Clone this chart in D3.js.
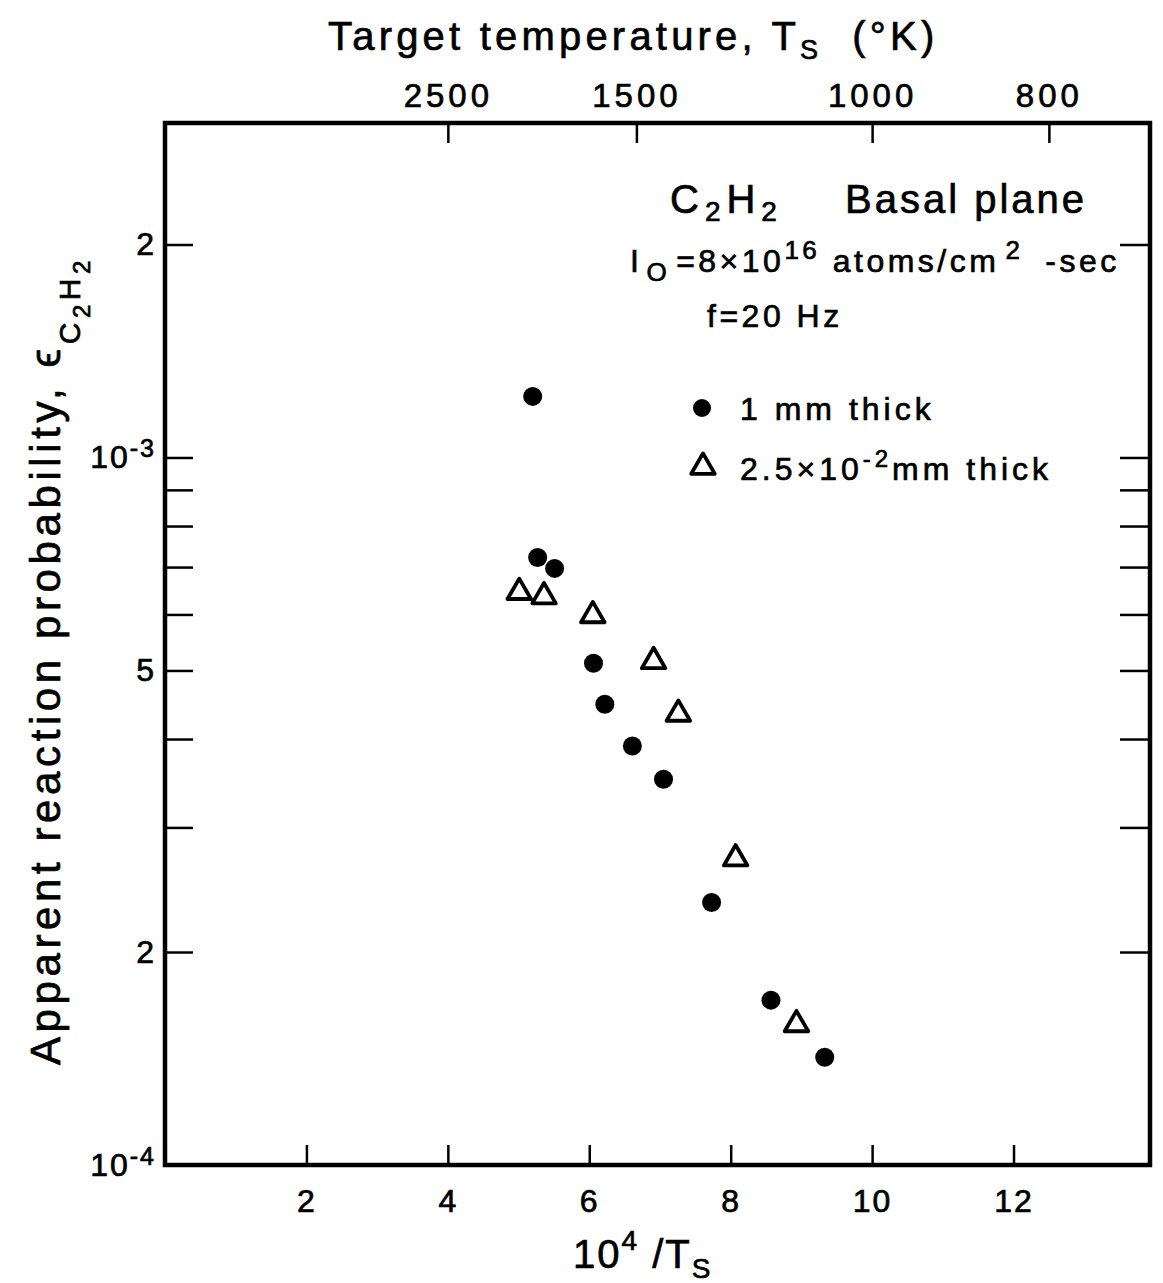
<!DOCTYPE html>
<html>
<head>
<meta charset="utf-8">
<title>C2H2 basal plane</title>
<script src="https://d3js.org/d3.v7.min.js"></script>
<style>
  body { margin: 0; background: #fff; }
  svg { display: block; font-family: "Liberation Sans", Arial, sans-serif; }
  .axis path.domain { display: none; }
  .axis line { stroke: #000; stroke-width: 2.5; }
  .axis text { font-size: 32px; fill: #000; stroke: #000; stroke-width: 0.7px; font-family: "Liberation Sans", Arial, sans-serif; letter-spacing: 2px; }
  .axis.top text { font-size: 33px; letter-spacing: 4px; }
  .frame { fill: none; stroke: #000; stroke-width: 4.5; }
  .dot { fill: #000; }
  .tri { fill: none; stroke: #000; stroke-width: 3.8; stroke-linejoin: round; }
  .lbl { fill: #000; stroke: #000; stroke-width: 0.7px; }
</style>
</head>
<body>
<script>
// 1 mm thick sample (filled circles)
var invT_thick = [5.20, 5.27, 5.51, 6.06, 6.22, 6.61, 7.05, 7.73, 8.57, 9.33];
var eps_thick  = [1.22e-3, 7.22e-4, 6.97e-4, 5.12e-4, 4.48e-4, 3.91e-4, 3.51e-4, 2.35e-4, 1.71e-4, 1.42e-4];
// 2.5e-2 mm thick sample (open triangles)
var invT_thin = [5.01, 5.36, 6.05, 6.91, 7.26, 8.07, 8.93];
var eps_thin  = [6.45e-4, 6.36e-4, 5.98e-4, 5.15e-4, 4.34e-4, 2.71e-4, 1.58e-4];

var xTicks = [2, 4, 6, 8, 10, 12];
var tempTicks = [2500, 1500, 1000, 800];
var yTicksLeft = [1e-4, 2e-4, 3e-4, 4e-4, 5e-4, 6e-4, 7e-4, 8e-4, 9e-4, 1e-3, 2e-3];
var yTicksRight = [2e-4, 3e-4, 4e-4, 5e-4, 6e-4, 7e-4, 8e-4, 9e-4, 1e-3, 2e-3];

var W = 1163, H = 1283;
var svg = d3.select('body').append('svg').attr('width', W).attr('height', H);

var x = d3.scaleLinear().domain([0, 13.93]).range([165, 1150]);
var y = d3.scaleLog().domain([1e-4, 2.97e-3]).range([1165, 123]);

function yFmt(d) {
  if (d === 1e-3 || d === 1e-4) return '10';
  if (d === 2e-3 || d === 2e-4) return '2';
  if (d === 5e-4) return '5';
  return '';
}

// left axis
var gl = svg.append('g').attr('class', 'axis').attr('transform', 'translate(165,0)')
  .call(d3.axisLeft(y).tickValues(yTicksLeft).tickFormat(yFmt).tickSizeInner(-28).tickSizeOuter(0).tickPadding(9));
gl.selectAll('.tick text').filter(function(d){ return d === 1e-3 || d === 1e-4; })
  .append('tspan').attr('dy', '-0.45em').style('font-size', '25px')
  .text(function(d){ return d === 1e-3 ? '-3' : '-4'; });

// right axis
svg.append('g').attr('class', 'axis').attr('transform', 'translate(1150,0)')
  .call(d3.axisRight(y).tickValues(yTicksRight).tickFormat('').tickSizeInner(-30).tickSizeOuter(0));

// bottom axis
svg.append('g').attr('class', 'axis').attr('transform', 'translate(0,1165)')
  .call(d3.axisBottom(x).tickValues(xTicks).tickFormat(d3.format('d')).tickSizeInner(-20).tickSizeOuter(0).tickPadding(24));

// top axis (temperature)
svg.append('g').attr('class', 'axis top').attr('transform', 'translate(0,123)')
  .call(d3.axisTop(x).tickValues(tempTicks.map(function(t){ return 1e4 / t; }))
    .tickFormat(function(d, i){ return tempTicks[i]; })
    .tickSizeInner(-20).tickSizeOuter(0).tickPadding(16));

svg.append('rect').attr('class', 'frame')
  .attr('x', x(0)).attr('y', y(2.97e-3))
  .attr('width', x(13.93) - x(0)).attr('height', y(1e-4) - y(2.97e-3));

// data
var thick = invT_thick.map(function(v, i){ return { x: v, y: eps_thick[i] }; });
var thin = invT_thin.map(function(v, i){ return { x: v, y: eps_thin[i] }; });

svg.selectAll('circle.dot').data(thick).enter().append('circle')
  .attr('class', 'dot')
  .attr('cx', function(d){ return x(d.x); })
  .attr('cy', function(d){ return y(d.y); })
  .attr('r', 9.5);

var tri = d3.symbol().type(d3.symbolTriangle).size(240);
svg.selectAll('path.tri').data(thin).enter().append('path')
  .attr('class', 'tri')
  .attr('d', tri)
  .attr('transform', function(d){ return 'translate(' + x(d.x) + ',' + y(d.y) + ')'; });

// rich text helper: parts = [text, size, dy, dx]
function rich(parent, px, py, parts, ls) {
  var t = parent.append('text').attr('class', 'lbl').attr('x', px).attr('y', py)
    .style('letter-spacing', (ls || 0) + 'px');
  parts.forEach(function(p){
    t.append('tspan').attr('dy', p[2] || 0).attr('dx', p[3] || 0).style('font-size', p[1] + 'px').text(p[0]);
  });
  return t;
}

// titles
rich(svg, 328, 50, [['Target temperature, T', 40], ['S', 27, 9], ['(\u00B0K)', 40, -9, 30]], 4.2);
rich(svg, 573, 1268, [['10', 40], ['4', 28, -18], [' /T', 40, 18], ['S', 28, 10]], 2);

var yt = svg.append('g').attr('transform', 'translate(60,1065) rotate(-90)');
rich(yt, 0, 0, [['Apparent reaction probability,  \u03F5', 42], ['C', 30, 20], ['2', 24, 10], ['H', 30, -10], ['2', 24, 10]], 4.6);

// annotations
rich(svg, 670, 213, [['C', 40], ['2', 28, 8], ['H', 40, -8], ['2', 28, 8]], 6);
rich(svg, 845, 213, [['Basal plane', 40]], 3);
rich(svg, 630, 272, [['I', 32], ['O', 26, 9, 4], ['=8\u00D710', 32, -9, 6], ['16', 26, -13], [' atoms/cm', 32, 13], ['2', 26, -13, 6], ['-sec', 32, 13, 22]], 3.5);
rich(svg, 707, 327, [['f=20 Hz', 32]], 3.5);

// legend
svg.append('circle').attr('class', 'dot').attr('cx', 702).attr('cy', 408).attr('r', 9);
svg.append('path').attr('class', 'tri').attr('d', tri).attr('transform', 'translate(703,467)');
rich(svg, 740, 420, [['1 mm thick', 32]], 4);
rich(svg, 740, 480, [['2.5\u00D710', 32], ['-2', 24, -13], ['mm thick', 32, 13]], 4);
</script>
</body>
</html>
